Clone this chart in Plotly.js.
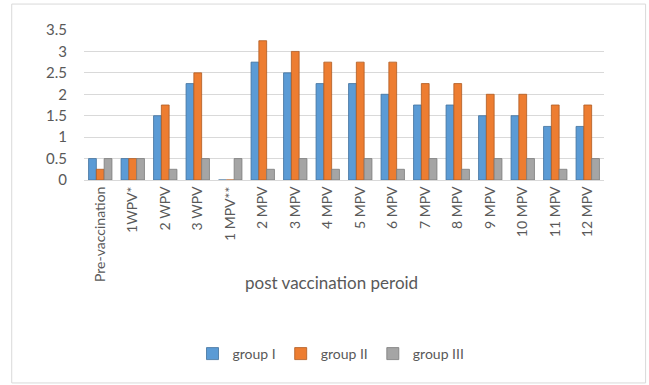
<!DOCTYPE html>
<html><head><meta charset="utf-8">
<script src="https://cdn.plot.ly/plotly-3.0.1.min.js"></script>
<style>html,body{margin:0;padding:0;background:#fff}#c{width:649px;height:385px}</style>
</head><body><div id="c"></div>
<script>
var categories = ["Pre-vaccination","1WPV*","2 WPV","3 WPV","1 MPV**","2 MPV","3 MPV","4 MPV","5 MPV","6 MPV","7 MPV","8 MPV","9 MPV","10 MPV","11 MPV","12 MPV"];
var groupI   = [0.5,0.5,1.5,2.25,0,2.75,2.5,2.25,2.25,2,1.75,1.75,1.5,1.5,1.25,1.25];
var groupII  = [0.25,0.5,1.75,2.5,0,3.25,3,2.75,2.75,2.75,2.25,2.25,2,2,1.75,1.75];
var groupIII = [0.5,0.5,0.25,0.5,0.5,0.25,0.5,0.25,0.5,0.25,0.5,0.25,0.5,0.5,0.25,0.5];
var seriesNames = ["group I","group II","group III"];
var colors = ["#5B9BD5","#ED7D31","#A5A5A5"];
var edge = ["#41719C","#AE5A21","#7B7B7B"];
var vals = [groupI, groupII, groupIII];
var traces = vals.map(function(v,i){
  return {type:"bar", x:categories, y:v, name:seriesNames[i],
    marker:{color:colors[i], line:{color:edge[i], width:0.8}}};
});
var layout = {
  width:649, height:385,
  margin:{l:84, r:45, t:30, b:205},
  paper_bgcolor:"#fff", plot_bgcolor:"#fff",
  font:{family:"Lato, 'Liberation Sans', sans-serif", color:"#595959"},
  barmode:"group", bargap:0.28, bargroupgap:0,
  xaxis:{type:"category", tickangle:-90, tickfont:{size:14, color:"#595959"},
    showline:true, linecolor:"#D9D9D9", ticks:"", showgrid:false},
  yaxis:{range:[0,3.5], dtick:0.5, tickfont:{size:15, color:"#595959"},
    gridcolor:"#D9D9D9", zeroline:false, showline:false, ticks:"", ticklabelstandoff:16},
  showlegend:true,
  legend:{orientation:"h", x:0.475, xanchor:"center", y:-1.16, yanchor:"middle",
    font:{size:14, color:"#595959"}, itemwidth:30, traceorder:"normal"},
  annotations:[{text:"post vaccination peroid", xref:"paper", yref:"paper", x:0.475, y:-0.68,
    showarrow:false, font:{size:17, color:"#595959"}, xanchor:"center", yanchor:"middle"}],
  shapes:[{type:"rect", xref:"paper", yref:"paper", x0:-0.139, x1:1.08, y0:-1.353, y1:1.173,
    line:{color:"#D9D9D9", width:1}, fillcolor:"rgba(0,0,0,0)", layer:"below"}]
};
Plotly.newPlot("c", traces, layout, {displayModeBar:false, staticPlot:true});
</script></body></html>
